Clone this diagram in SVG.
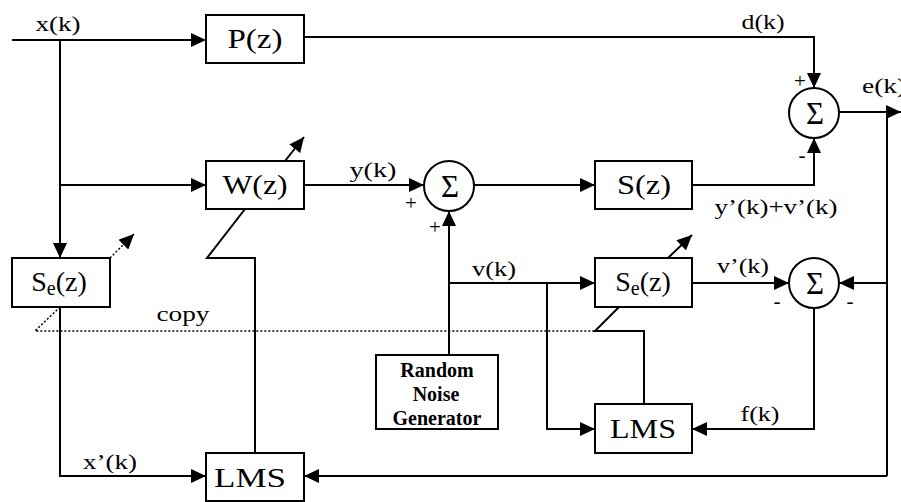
<svg xmlns="http://www.w3.org/2000/svg" width="901" height="502" viewBox="0 0 901 502">
<style>
.box{fill:#fff;stroke:#000;stroke-width:2}
.sum{fill:#fff;stroke:#000;stroke-width:2}
.ln{fill:none;stroke:#000;stroke-width:2}
.dot{fill:none;stroke:#000;stroke-width:1.5;stroke-dasharray:2 2}
text{font-family:'Liberation Serif','Times New Roman','DejaVu Serif',serif;fill:#000}
.bt{font-size:28px;text-anchor:middle}
.lb{font-size:22px;text-anchor:middle}
.sg{font-size:31px;text-anchor:middle}
.pm{font-size:21px;text-anchor:middle}
.rn{font-size:20px;font-weight:bold;text-anchor:middle}
</style>
<defs>
<marker id="ah" markerUnits="userSpaceOnUse" markerWidth="16" markerHeight="14" refX="15" refY="7" orient="auto">
<path d="M0,0 L15,7 L0,14 Z" fill="#000"/>
</marker>
</defs>
<g id="connectors">
<path class="ln" d="M12,40 H206" marker-end="url(#ah)"/>
<path class="ln" d="M60,40 V258" marker-end="url(#ah)"/>
<path class="ln" d="M60,185 H206" marker-end="url(#ah)"/>
<path class="ln" d="M304,37 H814 V88" marker-end="url(#ah)"/>
<path class="ln" d="M304,185 H424" marker-end="url(#ah)"/>
<path class="ln" d="M474,185 H595" marker-end="url(#ah)"/>
<path class="ln" d="M692,185 H814 V138" marker-end="url(#ah)"/>
<path class="ln" d="M839,112 H901" marker-end="url(#ah)"/>
<path class="ln" d="M887,112 V476"/>
<path class="ln" d="M887,283 H839" marker-end="url(#ah)"/>
<path class="ln" d="M887,476 H304" marker-end="url(#ah)"/>
<path class="ln" d="M814,308 V429 H692" marker-end="url(#ah)"/>
<path class="ln" d="M692,283 H789" marker-end="url(#ah)"/>
<path class="ln" d="M449,355 V211" marker-end="url(#ah)"/>
<path class="ln" d="M449,283 H595" marker-end="url(#ah)"/>
<path class="ln" d="M547,283 V429 H595" marker-end="url(#ah)"/>
<path class="ln" d="M60,307 V476 H206" marker-end="url(#ah)"/>
<path class="ln" d="M255,453 V258 H207 L245,209"/>
<path class="ln" d="M644,404 V331 H595 L619,307"/>
<path class="ln" d="M285,161 L304,137" marker-end="url(#ah)"/>
<path class="ln" d="M668,258 L692,235" marker-end="url(#ah)"/>
<path class="dot" d="M110,258 L134,234" marker-end="url(#ah)"/>
<path class="dot" d="M60,307 L35,331 H595"/>
</g>
<g id="P"><rect class="box" x="206" y="15" width="98" height="48"/><text class="bt" x="255" y="48" textLength="55" lengthAdjust="spacingAndGlyphs">P(z)</text></g>
<g id="W"><rect class="box" x="206" y="161" width="98" height="48"/><text class="bt" x="255" y="194" textLength="65" lengthAdjust="spacingAndGlyphs">W(z)</text></g>
<g id="S"><rect class="box" x="595" y="161" width="97" height="48"/><text class="bt" x="644" y="194" textLength="54" lengthAdjust="spacingAndGlyphs">S(z)</text></g>
<g id="Se_left"><rect class="box" x="12" y="258" width="98" height="49"/><text class="bt" x="59" y="291">S<tspan font-size="20" dy="4">e</tspan><tspan dy="-4">(z)</tspan></text></g>
<g id="Se_mid"><rect class="box" x="595" y="258" width="97" height="49"/><text class="bt" x="643" y="291">S<tspan font-size="20" dy="4">e</tspan><tspan dy="-4">(z)</tspan></text></g>
<g id="LMS_mid"><rect class="box" x="595" y="404" width="97" height="49"/><text class="bt" x="643" y="438" textLength="66" lengthAdjust="spacingAndGlyphs">LMS</text></g>
<g id="LMS_bot"><rect class="box" x="206" y="453" width="98" height="48"/><text class="bt" x="250" y="487" textLength="72" lengthAdjust="spacingAndGlyphs">LMS</text></g>
<g id="RNG"><rect class="box" x="376" y="355" width="122" height="74"/>
<text class="rn" x="437" y="377">Random</text><text class="rn" x="436" y="401">Noise</text><text class="rn" x="437" y="425">Generator</text></g>
<g id="sum_top"><circle class="sum" cx="814" cy="113" r="25"/><text class="sg" x="815" y="124">Σ</text></g>
<g id="sum_mid"><circle class="sum" cx="449" cy="186" r="25"/><text class="sg" x="450" y="197">Σ</text></g>
<g id="sum_low"><circle class="sum" cx="814" cy="283" r="25"/><text class="sg" x="815" y="294">Σ</text></g>
<g id="labels">
<text class="lb" x="58" y="31" textLength="45" lengthAdjust="spacingAndGlyphs">x(k)</text>
<text class="lb" x="763" y="29" textLength="43" lengthAdjust="spacingAndGlyphs">d(k)</text>
<text class="lb" x="884" y="93" textLength="44" lengthAdjust="spacingAndGlyphs">e(k)</text>
<text class="lb" x="373" y="177" textLength="47" lengthAdjust="spacingAndGlyphs">y(k)</text>
<text class="lb" x="776" y="214" textLength="123" lengthAdjust="spacingAndGlyphs">y’(k)+v’(k)</text>
<text class="lb" x="494" y="276" textLength="44" lengthAdjust="spacingAndGlyphs">v(k)</text>
<text class="lb" x="743" y="273" textLength="52" lengthAdjust="spacingAndGlyphs">v’(k)</text>
<text class="lb" x="760" y="421" textLength="39" lengthAdjust="spacingAndGlyphs">f(k)</text>
<text class="lb" x="110" y="469" textLength="54" lengthAdjust="spacingAndGlyphs">x’(k)</text>
<text class="lb" x="183" y="321" textLength="53" lengthAdjust="spacingAndGlyphs">copy</text>
<text class="pm" x="800" y="88">+</text>
<text class="pm" x="802" y="162">-</text>
<text class="pm" x="411" y="210">+</text>
<text class="pm" x="435" y="234">+</text>
<text class="pm" x="777" y="308">-</text>
<text class="pm" x="850" y="308">-</text>
</g>
</svg>
